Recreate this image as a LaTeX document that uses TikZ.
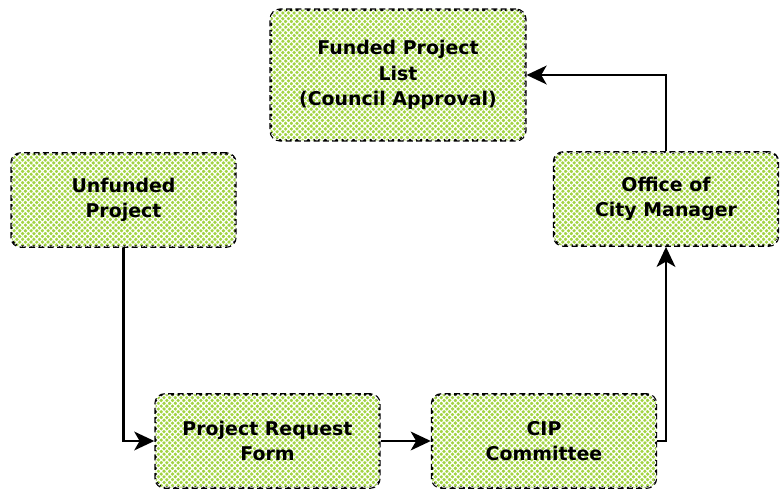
\documentclass[tikz,border=0pt]{standalone}
\usepackage{fontspec}
\setmainfont{DejaVu Sans}
\usetikzlibrary{arrows.meta, patterns.meta}
\definecolor{leafgreen}{RGB}{162,212,66}

\begin{document}
\begin{tikzpicture}[x=0.75pt, y=-0.75pt,
  stage/.style={draw, line width=1.8pt, dash pattern=on 4.5pt off 2.5pt,
    rounded corners=7pt, fill=leafgreen,
    postaction={pattern={Hatch[angle=45,distance=3pt,line width=0.85pt]}, pattern color=white},
    minimum width=168pt, minimum height=70pt, align=center,
    font=\fontsize{14.2}{19}\selectfont\bfseries},
  flow/.style={line width=2pt, -{Stealth[length=15pt,width=14pt,inset=4pt]}}]
\useasboundingbox (0,0) rectangle (781,491);
\node [stage, minimum width=191pt, minimum height=98pt] (funded) at (398,75) {Funded Project\\List\\(Council Approval)};
\node [stage] (unfunded) at (123.5,200) {Unfunded\\Project};
\node [stage] (request) at (267.5,441) {Project Request\\Form};
\node [stage] (cip) at (544,441) {CIP\\Committee};
\node [stage] (office) at (666,199) {Office of\\City Manager};
\draw [flow] (unfunded.south) |- (request.west);
\draw [flow] (request) -- (cip);
\draw [flow] (cip.east) -| (office.south);
\draw [flow] (office.north) |- (funded.east);
\end{tikzpicture}
\end{document}
